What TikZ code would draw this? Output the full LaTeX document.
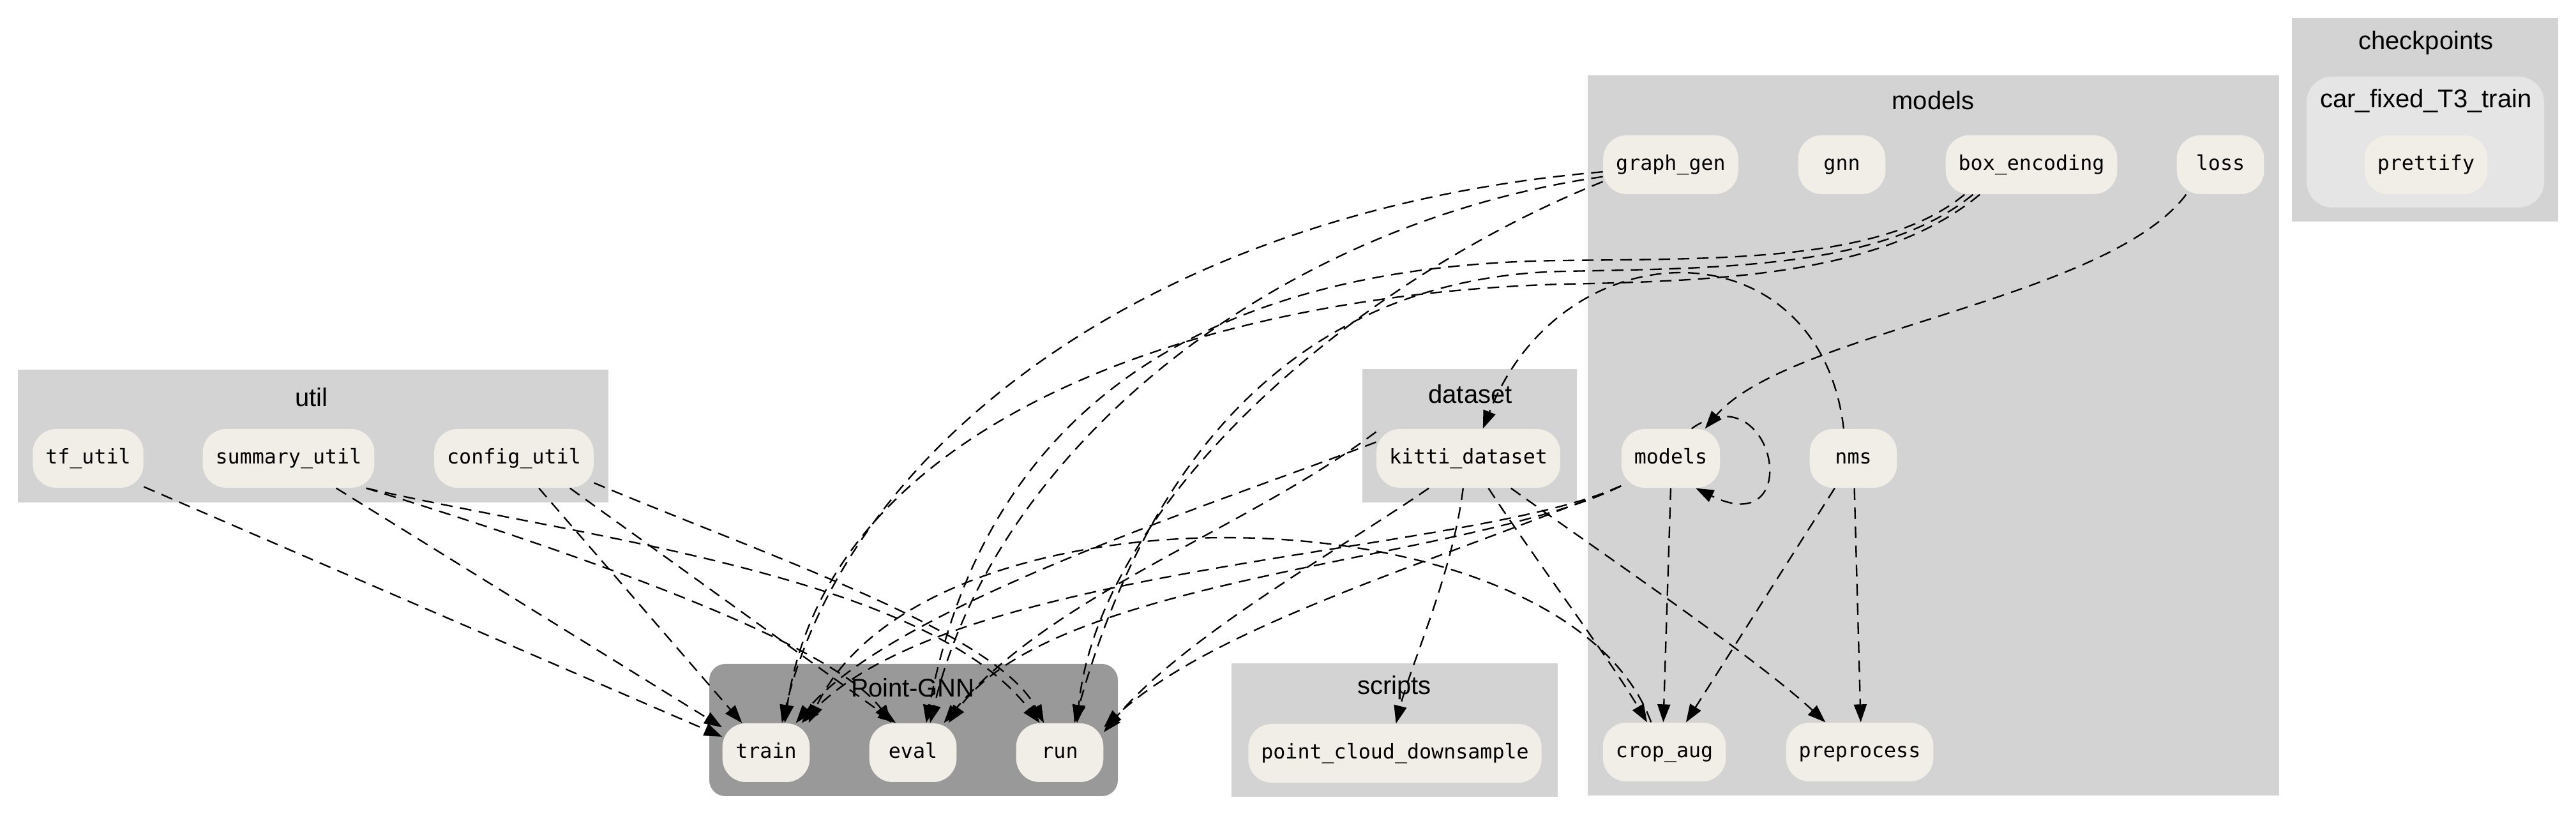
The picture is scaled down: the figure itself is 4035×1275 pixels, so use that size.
\documentclass[tikz,border=0pt]{standalone}
\usepackage{fontspec}
\setmainfont{Liberation Sans}
\newfontfamily\modfont{DejaVu Sans Mono}
\usepackage{tikz}
\usepackage{xcolor}
\usetikzlibrary{arrows.meta}
\definecolor{clusterGray}{RGB}{211, 211, 211}
\definecolor{pointGnnGray}{RGB}{153, 153, 153}
\definecolor{ckptGray}{RGB}{229, 229, 229}
\definecolor{moduleBeige}{RGB}{240, 238, 230}

\begin{document}
\begin{tikzpicture}[x=0.3pt, y=-0.3pt,
    modnode/.style={fill=moduleBeige, rounded corners=11pt, inner xsep=6pt, inner ysep=0pt,
        minimum width=41pt, minimum height=27.6pt, text height=7pt, text depth=2pt,
        font=\modfont\fontsize{9.5}{11}\selectfont},
    pkglabel/.style={font=\fontsize{12}{14}\selectfont},
    dep/.style={-{Triangle[length=8.4pt,width=6pt]}, dash pattern=on 5.5pt off 3.5pt, line width=0.7pt}]
    \fill[white] (0,0) rectangle (4035,1275);
    \useasboundingbox (0,0) rectangle (4035,1275);

    % package boxes
    \fill[clusterGray] (28,579) rectangle (953,787);
    \fill[clusterGray] (2134,578) rectangle (2470,787);
    \fill[clusterGray] (2487,118) rectangle (3570,1246);
    \fill[clusterGray] (1929,1039) rectangle (2440,1248);
    \fill[pointGnnGray, rounded corners=7.5pt] (1111,1040) rectangle (1751,1247);
    \fill[clusterGray] (3590,28) rectangle (4007,347);
    \fill[ckptGray, rounded corners=12pt] (3613,120) rectangle (3985,325);

    \node[pkglabel] (util_label) at (488,622) {util};
    \node[pkglabel] (dataset_label) at (2303,617) {dataset};
    \node[pkglabel] (models_label) at (3028,157) {models};
    \node[pkglabel] (scripts_label) at (2184,1077) {scripts};
    \node[pkglabel] (pointgnn_label) at (1430,1077) {Point-GNN};
    \node[pkglabel] (checkpoints_label) at (3800,67) {checkpoints};
    \node[pkglabel] (carfixed_label) at (3800,158) {car\_fixed\_T3\_train};

    % modules
    \node[modnode] (tf_util) at (138,718) {tf\_util};
    \node[modnode] (summary_util) at (452,718) {summary\_util};
    \node[modnode] (config_util) at (805,718) {config\_util};
    \node[modnode] (kitti_dataset) at (2300,718) {kitti\_dataset};
    \node[modnode] (graph_gen) at (2617,258) {graph\_gen};
    \node[modnode] (gnn) at (2885,258) {gnn};
    \node[modnode] (box_encoding) at (3182,258) {box\_encoding};
    \node[modnode] (loss) at (3478,258) {loss};
    \node[modnode] (models) at (2617,718) {models};
    \node[modnode] (nms) at (2903,718) {nms};
    \node[modnode] (crop_aug) at (2607,1178) {crop\_aug};
    \node[modnode] (preprocess) at (2913,1178) {preprocess};
    \node[modnode] (point_cloud_downsample) at (2185,1180) {point\_cloud\_downsample};
    \node[modnode] (train) at (1200,1179) {train};
    \node[modnode] (eval) at (1430,1179) {eval};
    \node[modnode] (run) at (1660,1179) {run};
    \node[modnode] (prettify) at (3800,258) {prettify};

    % imports
    \draw[dep] (tf_util.-27) -- (train.160);
    \draw[dep] (summary_util.-32) -- (train.150);
    \draw[dep] (summary_util.-21) .. controls (850,850) and (1300,1000) .. (eval.126);
    \draw[dep] (summary_util.-21) .. controls (900,840) and (1450,900) .. (run.124);
    \draw[dep] (config_util.-50) -- (train.129);
    \draw[dep] (config_util.-28) -- (eval.120);
    \draw[dep] (config_util.-17) .. controls (1200,870) and (1560,990) .. (run.118);

    \draw[dep] (graph_gen.186) .. controls (1800,330) and (1330,700) .. (train.62);
    \draw[dep] (graph_gen.190) .. controls (2000,350) and (1560,700) .. (eval.60);
    \draw[dep] (graph_gen.194) .. controls (2100,450) and (1720,800) .. (run.60);
    \draw[dep] (box_encoding.204) .. controls (2950,410) and (2700,405) .. (2450,408) .. controls (2000,412) and (1560,560) .. (eval.66);
    \draw[dep] (box_encoding.207) .. controls (2950,420) and (2700,420) .. (2450,425) .. controls (2100,432) and (1820,640) .. (run.64);
    \draw[dep] (box_encoding.210) .. controls (2950,430) and (2700,440) .. (2450,445) .. controls (1900,460) and (1300,650) .. (train.58);

    \draw[dep] (models.209) .. controls (2300,870) and (1500,880) .. (train.40);
    \draw[dep] (models.209) .. controls (2300,880) and (1650,900) .. (eval.40);
    \draw[dep] (models.209) .. controls (2250,880) and (1900,980) .. (run.30);
    \draw[dep] (kitti_dataset.170) .. controls (1900,790) and (1400,950) .. (train.45);
    \draw[dep] (kitti_dataset.164) .. controls (1950,830) and (1650,930) .. (eval.44);
    \draw[dep] (kitti_dataset.217) .. controls (2100,860) and (1850,1000) .. (run.25);
    \draw[dep] (kitti_dataset.260) .. controls (2275,900) and (2210,1040) .. (point_cloud_downsample.88);
    \draw[dep] (kitti_dataset.-56) .. controls (2400,870) and (2520,1030) .. (crop_aug.120);
    \draw[dep] (kitti_dataset.-35) .. controls (2500,860) and (2750,1030) .. (preprocess.139);
    \draw[dep] (crop_aug.114) .. controls (2450,760) and (1450,740) .. (train.35);

    \draw[dep] (nms.238) -- (crop_aug.54);
    \draw[dep] (nms.-88) -- (preprocess.88);
    \draw[dep] (nms.108) .. controls (2850,350) and (2450,350) .. (kitti_dataset.64);
    \draw[dep] (models.-90) -- (crop_aug.92);
    \draw[dep] (models.55) .. controls (2780,580) and (2830,850) .. (models.-50);
    \draw[dep] (loss.221) .. controls (3300,470) and (2800,520) .. (models.41);
\end{tikzpicture}
\end{document}
